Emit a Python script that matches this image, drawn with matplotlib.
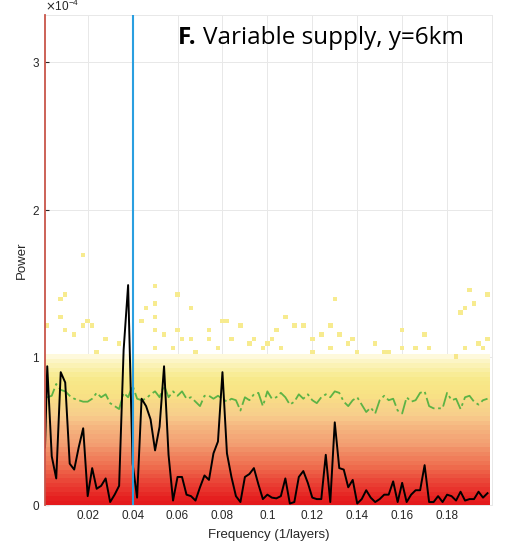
import numpy as np
import matplotlib
matplotlib.use("Agg")
import matplotlib.pyplot as plt
from matplotlib.colors import LinearSegmentedColormap, LogNorm

plt.rcParams['font.family'] = ['Liberation Sans', 'DejaVu Sans']

# frequency axis (1/layers), power in units of 1e-4
freq = np.r_[0.001, np.arange(1, 100) * 0.002]

spectrum = [0.39,
            0.94, 0.33, 0.18, 0.90, 0.83, 0.28, 0.24, 0.39, 0.52, 0.06,
            0.25, 0.11, 0.13, 0.18, 0.02, 0.07, 0.13, 1.05, 1.49, 0.28,
            0.05, 0.72, 0.67, 0.58, 0.37, 0.53, 0.94, 0.34, 0.03, 0.19,
            0.19, 0.07, 0.06, 0.03, 0.12, 0.20, 0.17, 0.35, 0.43, 0.90,
            0.35, 0.19, 0.06, 0.02, 0.19, 0.21, 0.25, 0.14, 0.04, 0.07,
            0.05, 0.045, 0.06, 0.18, 0.01, 0.02, 0.19, 0.23, 0.15, 0.05,
            0.04, 0.04, 0.34, 0.02, 0.56, 0.25, 0.24, 0.12, 0.17, 0.01,
            0.04, 0.10, 0.05, 0.02, 0.04, 0.07, 0.07, 0.16, 0.02, 0.15,
            0.02, 0.07, 0.10, 0.10, 0.27, 0.02, 0.02, 0.06, 0.02, 0.07,
            0.06, 0.03, 0.09, 0.03, 0.04, 0.04, 0.09, 0.05, 0.08]

conf95 = [0.73,
          0.73, 0.74, 0.82, 0.78, 0.77, 0.74, 0.72, 0.71, 0.70, 0.70,
          0.72, 0.76, 0.73, 0.75, 0.69, 0.67, 0.65, 0.76, 0.73, 0.81,
          0.72, 0.71, 0.72, 0.75, 0.77, 0.73, 0.81, 0.73, 0.77, 0.74,
          0.77, 0.72, 0.73, 0.70, 0.67, 0.74, 0.74, 0.72, 0.74, 0.72,
          0.70, 0.72, 0.71, 0.64, 0.73, 0.71, 0.75, 0.76, 0.67, 0.77,
          0.72, 0.73, 0.76, 0.73, 0.68, 0.70, 0.75, 0.72, 0.75, 0.71,
          0.69, 0.73, 0.75, 0.73, 0.77, 0.76, 0.70, 0.67, 0.71, 0.73,
          0.68, 0.63, 0.66, 0.62, 0.71, 0.74, 0.71, 0.72, 0.64, 0.62,
          0.73, 0.70, 0.71, 0.76, 0.77, 0.67, 0.655, 0.655, 0.655, 0.76,
          0.71, 0.72, 0.65, 0.73, 0.74, 0.70, 0.68, 0.71, 0.72]

# realisation counts per power bin (bin height 0.03e-4), same for every frequency
row_counts = [60, 55, 48, 42, 37, 33, 29, 26, 23, 20,
              18, 16, 14, 12, 11, 10, 9, 8, 7, 6,
              5, 4.5, 4, 3.5, 3, 2.5, 2, 1.6, 1.2, 0.95,
              0.85, 0.75, 0.65, 0.55]

# isolated high-power realisations
dot_freq = [0.010, 0.008, 0.002, 0.008, 0.010, 0.020, 0.018, 0.022, 0.014, 0.028,
            0.024, 0.034, 0.046, 0.050, 0.050, 0.018, 0.050, 0.060, 0.066, 0.050,
            0.054, 0.060, 0.062, 0.066, 0.074, 0.074, 0.080, 0.082, 0.088, 0.084,
            0.094, 0.050, 0.058, 0.068, 0.078, 0.092, 0.098, 0.100, 0.130, 0.108,
            0.128, 0.112, 0.116, 0.104, 0.132, 0.124, 0.120, 0.138, 0.102, 0.136,
            0.106, 0.128, 0.120, 0.140, 0.148, 0.190, 0.198, 0.192, 0.188, 0.186,
            0.160, 0.170, 0.166, 0.172, 0.198, 0.194, 0.196, 0.188, 0.184, 0.160,
            0.152, 0.154, 0.044]
dot_power = [1.42, 1.38, 1.21, 1.27, 1.17, 1.24, 1.20, 1.20, 1.14, 1.13,
             1.04, 1.10, 1.34, 1.47, 1.27, 1.68, 1.35, 1.42, 1.32, 1.17,
             1.14, 1.19, 1.13, 1.11, 1.19, 1.12, 1.24, 1.25, 1.20, 1.13,
             1.12, 1.05, 1.06, 1.03, 1.06, 1.08, 1.06, 1.09, 1.39, 1.28,
             1.22, 1.20, 1.21, 1.17, 1.16, 1.14, 1.11, 1.11, 1.12, 1.08,
             1.07, 1.05, 1.04, 1.04, 1.08, 1.46, 1.42, 1.36, 1.32, 1.31,
             1.17, 1.15, 1.07, 1.05, 1.13, 1.10, 1.06, 1.05, 1.00, 1.05,
             1.02, 1.02, 1.24]

xticks = [0.02, 0.04, 0.06, 0.08, 0.1, 0.12, 0.14, 0.16, 0.18]
xticklabels = ['0.02', '0.04', '0.06', '0.08', '0.1', '0.12', '0.14', '0.16', '0.18']

scale = 1e-4
dy = 0.03
nrow = 60
x_edges = np.r_[0.001, np.arange(1, 100) * 0.002 + 0.001]
y_edges = np.arange(nrow + 1) * dy * scale

counts = np.zeros((nrow, len(x_edges) - 1))
counts[:len(row_counts), :] = np.array(row_counts)[:, None]
for f, p in zip(dot_freq, dot_power):
    i = np.searchsorted(x_edges, f) - 1
    j = int(p / dy)
    counts[j, i] += 1
counts = np.ma.masked_less_equal(counts, 0)

cmap = LinearSegmentedColormap.from_list('supply', [
    (0.00, '#fffbe8'),
    (0.15, '#f7ea8c'),
    (0.35, '#f8e384'),
    (0.50, '#f7cc8c'),
    (0.65, '#f3a274'),
    (0.80, '#ee6a4c'),
    (0.92, '#e8352d'),
    (1.00, '#e41a1c')])

fig = plt.figure(figsize=(5.17, 5.41), dpi=100)
ax = fig.add_axes([45 / 517, 1 - 505 / 541, 447 / 517, 490 / 541])

ax.grid(True, color='#e8e8e8', linewidth=0.7)
ax.set_axisbelow(True)
ax.pcolormesh(x_edges, y_edges, counts, cmap=cmap,
              norm=LogNorm(vmin=0.5, vmax=60), zorder=1)

ax.plot(freq, np.array(conf95) * scale, color='#5cb345', lw=1.3,
        linestyle=(0, (8, 2, 1.5, 2)), zorder=3)
ax.plot(freq, np.array(spectrum) * scale, color='black', lw=1.4, zorder=4)
ax.axvline(0.04, color='#2a9fe0', lw=1.5, zorder=5)

ax.set_xlim(0.001, 0.2)
ax.set_ylim(0, 3.32e-4)
ax.set_xticks(xticks)
ax.set_xticklabels(xticklabels)
ax.set_yticks([0, 1e-4, 2e-4, 3e-4])
ax.ticklabel_format(axis='y', style='sci', scilimits=(-4, -4), useMathText=True)
ax.tick_params(direction='in', length=3, colors='#262626', labelsize=8.5)
ax.yaxis.get_offset_text().set_fontsize(8.5)
ax.yaxis.get_offset_text().set_color('#262626')
for s in ax.spines.values():
    s.set_color('#e8e8e8')
    s.set_linewidth(0.7)
ax.spines['left'].set_color('#c8554a')
ax.spines['left'].set_linewidth(1.3)
ax.spines['left'].set_zorder(6)

ax.set_xlabel('Frequency (1/layers)', fontsize=9.5, color='#262626', labelpad=5)
ax.set_ylabel('Power', fontsize=9.5, color='#262626', labelpad=3)

fig.text(178 / 517, 1 - 38 / 541, 'F.', fontsize=17.5, fontweight='bold',
         family='Open Sans', va='center', ha='left')
fig.text(203 / 517, 1 - 38 / 541, 'Variable supply, y=6km', fontsize=17.5,
         family='Open Sans', va='center', ha='left')

fig.savefig('out.png', dpi=100)
